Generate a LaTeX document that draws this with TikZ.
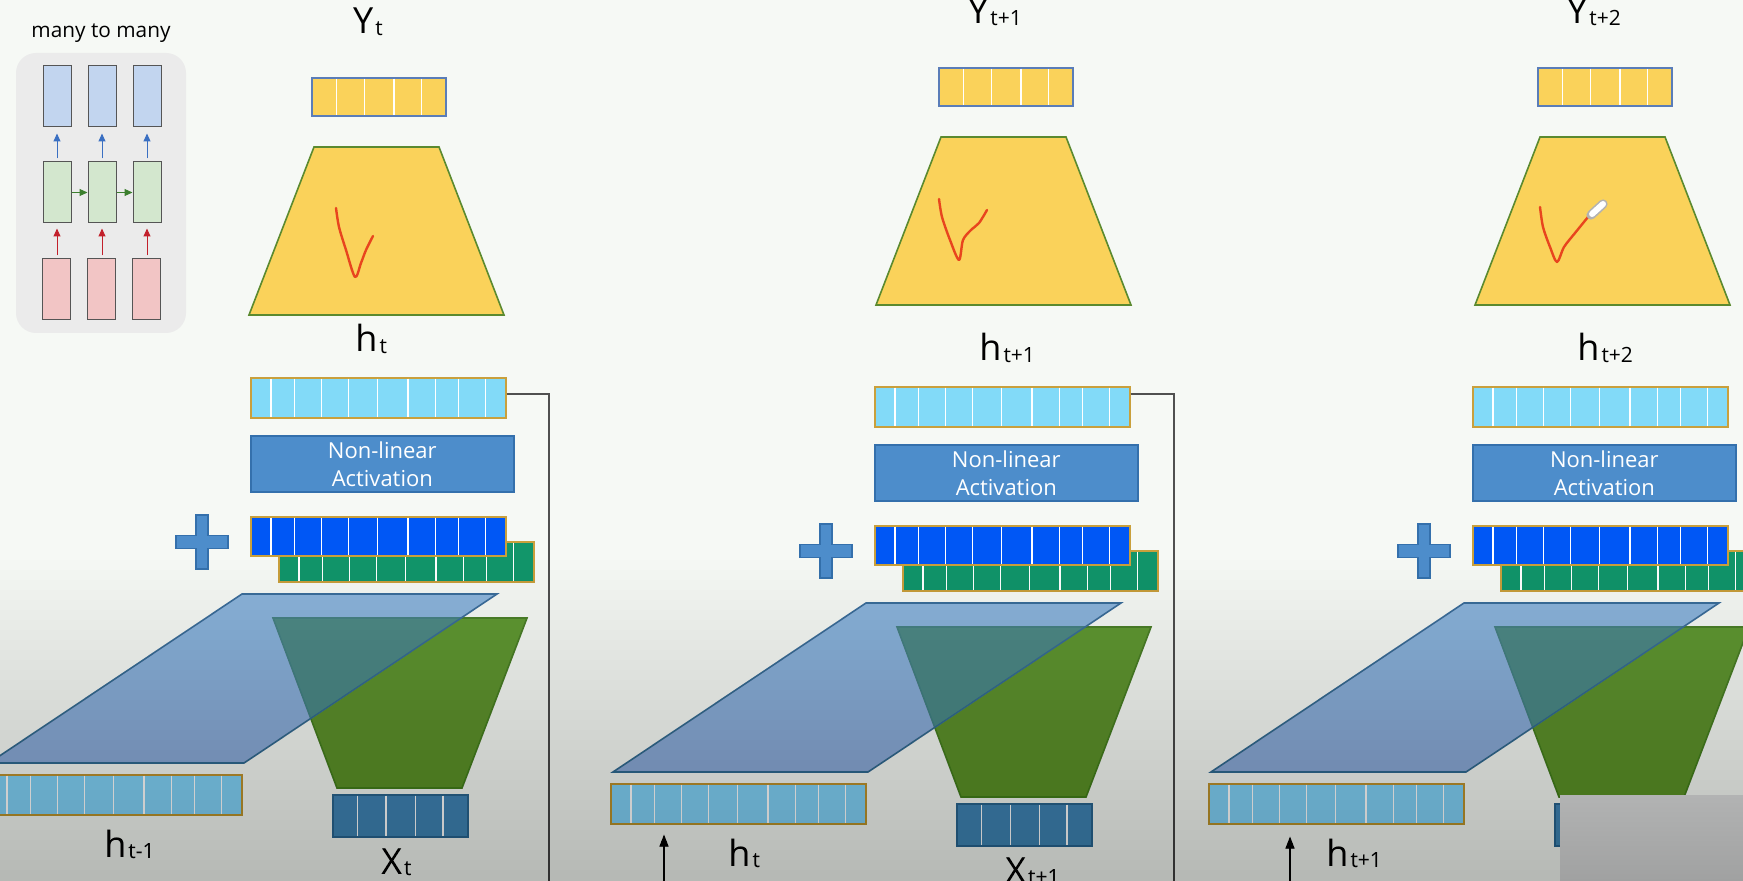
\documentclass[tikz,border=0pt]{standalone}
\usepackage{fontspec}
\setmainfont{Open Sans}
\usetikzlibrary{arrows.meta,positioning,calc}

\definecolor{BgTop}{HTML}{F6F9F5}
\definecolor{PanelGrey}{HTML}{EBEBEB}
\definecolor{PanelEdge}{HTML}{555555}
\definecolor{PanelBlue}{HTML}{C2D5EF}
\definecolor{PanelGreen}{HTML}{D3E7CE}
\definecolor{PanelRed}{HTML}{F2C5C5}
\definecolor{ArrowBlue}{HTML}{3A6FC2}
\definecolor{ArrowGreen}{HTML}{3C7F2E}
\definecolor{ArrowRed}{HTML}{C2202B}
\definecolor{OutYellow}{HTML}{FAD25A}
\definecolor{OutEdge}{HTML}{5A7DB8}
\definecolor{TrapEdge}{HTML}{5B8A2F}
\definecolor{HCyan}{HTML}{82DAF8}
\definecolor{VecGold}{HTML}{C9A03C}
\definecolor{ActBlue}{HTML}{4D8DCB}
\definecolor{ActEdge}{HTML}{3470AC}
\definecolor{SumBlue}{HTML}{0057F5}
\definecolor{SumGreen}{HTML}{12966A}
\definecolor{WBlue}{HTML}{4587CA}
\definecolor{WEdge}{HTML}{3D6E9E}
\definecolor{UGreen}{HTML}{619E36}
\definecolor{UEdge}{HTML}{4D802C}
\definecolor{XBlue}{HTML}{4C88C4}
\definecolor{XEdge}{HTML}{3A6A9A}
\definecolor{InkRed}{HTML}{E8451E}
\definecolor{FeedGrey}{HTML}{505050}
\definecolor{VideoGrey}{HTML}{AEAFAF}

\newcommand\sbs[1]{\kern1pt{\fontsize{10.5}{12}\selectfont\raisebox{-0.6pt}{#1}}}
\newcommand\vcells[2]{\foreach \f in {#2}
  \draw[cellline] ($(#1.north west)!\f!(#1.north east)$) -- ($(#1.south west)!\f!(#1.south east)$);}

\tikzset{
  vecbox/.style={rectangle,inner sep=0pt,anchor=north west,line width=0.8pt},
  hvec/.style={vecbox,draw=VecGold,fill=HCyan,minimum width=127.5pt,minimum height=20pt},
  sumvec/.style={vecbox,draw=VecGold,fill=SumBlue,minimum width=127.5pt,minimum height=19.5pt},
  wxvec/.style={vecbox,draw=VecGold,fill=SumGreen,minimum width=127.5pt,minimum height=20pt},
  outvec/.style={vecbox,draw=OutEdge,fill=OutYellow,minimum width=67pt,minimum height=19pt},
  xvec/.style={vecbox,draw=XEdge,fill=XBlue,minimum width=67.5pt,minimum height=21pt},
  actbox/.style={vecbox,draw=ActEdge,fill=ActBlue,text=white,minimum width=131.5pt,
    minimum height=28pt,align=center,font=\fontsize{11}{14}\selectfont},
  cellline/.style={white,line width=0.6pt,shorten <=0.8pt,shorten >=0.8pt},
  steplab/.style={inner sep=0pt,font=\fontsize{18}{20}\selectfont},
  panellab/.style={inner sep=0pt,font=\fontsize{10.4}{12}\selectfont},
  tinybox/.style={rectangle,draw=PanelEdge,line width=0.5pt,inner sep=0pt,
    minimum width=14pt,minimum height=30.5pt},
  tinyarrow/.style={line width=0.5pt,-{Triangle[length=4pt,width=3.5pt]}},
  outtrap/.style={fill=OutYellow,draw=TrapEdge,line width=0.8pt},
  wtrap/.style={fill=WBlue,fill opacity=0.58,draw=WEdge,line width=0.8pt},
  utrap/.style={fill=UGreen,draw=UEdge,line width=0.8pt},
  plusmark/.style={fill=ActBlue,draw=ActEdge,line width=0.6pt},
  inkstroke/.style={InkRed,line width=1.2pt,line cap=round,line join=round},
  feedline/.style={FeedGrey,line width=1pt},
  feedarrow/.style={black,line width=0.6pt,-{Triangle[length=6pt,width=4.5pt]}}
}

\begin{document}
\begin{tikzpicture}[x=0.5pt,y=-0.5pt]
  \useasboundingbox (0,0) rectangle (1743,881);
  \clip (0,0) rectangle (1743,881);
  \fill[BgTop] (0,0) rectangle (1743,881);

  % many to many thumbnail
  \fill[PanelGrey,rounded corners=10pt] (16,53) rectangle (186,333);
  \node[panellab,anchor=base] (mtm) at (101,38) {many to many};
  \foreach \k/\x in {1/57,2/102,3/147}{
    \node[tinybox,fill=PanelBlue] (po\k) at (\x,96.5) {};
    \node[tinybox,fill=PanelGreen] (ph\k) at (\x,192.5) {};
    \node[tinybox,fill=PanelRed] (pi\k) at (\x-1,289.5) {};
    \draw[tinyarrow,ArrowBlue,shorten <=1.5pt,shorten >=3pt] (ph\k) -- (po\k);
    \draw[tinyarrow,ArrowRed,shorten <=1.5pt,shorten >=2.5pt] (pi\k.north -| ph\k) -- (ph\k);
  }
  \draw[tinyarrow,ArrowGreen] (ph1) -- (ph2);
  \draw[tinyarrow,ArrowGreen] (ph2) -- (ph3);

  % three time steps
  \foreach \i/\lx/\ly/\ux/\uy/\yl/\hl/\bl/\xl in {
      1/0/0/0/0/t/t/{t-1}/{X\sbs{t}},
      2/624/9/627/-10/{t+1}/{t+1}/t/{X\sbs{t+1}},
      3/1222/9/1226/-10/{t+2}/{t+2}/{t+1}/{}}{
    \begin{scope}[shift={(\lx,\ly)}]
      \draw[utrap] (273,618) -- (527,618) -- (462,788) -- (337,788) -- cycle;
      \draw[wtrap] (242,594) -- (497,594) -- (244,763) -- (-11,763) -- cycle;
      \node[hvec,fill=HCyan] (hb\i) at (-14,774) {};
      \vcells{hb\i}{0.082,0.173,0.278,0.384,0.498,0.616,0.722,0.812,0.918}
      \node[xvec] (xv\i) at (332,794) {};
      \vcells{xv\i}{0.187,0.396,0.612,0.813}
      \node[steplab,anchor=base west] (bl\i) at (104,857) {h\sbs{\bl}};
      \node[steplab,anchor=base west] (xl\i) at (381,874) {\xl};
      \node[wxvec] (wx\i) at (278,541) {};
      \vcells{wx\i}{0.082,0.173,0.278,0.384,0.498,0.616,0.722,0.812,0.918}
      \node[sumvec] (sum\i) at (250,516) {};
      \vcells{sum\i}{0.082,0.173,0.278,0.384,0.498,0.616,0.722,0.812,0.918}
      \draw[plusmark] (196,515) -- (208,515) -- (208,535.5) -- (228,535.5) -- (228,548.5)
        -- (208,548.5) -- (208,569) -- (196,569) -- (196,548.5) -- (176,548.5)
        -- (176,535.5) -- (196,535.5) -- cycle;
      \node[actbox] (act\i) at (250,435) {Non-linear\\Activation};
      \node[hvec] (hu\i) at (250,377) {};
      \vcells{hu\i}{0.082,0.173,0.278,0.384,0.498,0.616,0.722,0.812,0.918}
      \node[steplab,anchor=base west] (hl\i) at (355,352) {h\sbs{\hl}};
    \end{scope}
    \begin{scope}[shift={(\ux,\uy)}]
      \draw[outtrap] (314,147) -- (439,147) -- (504,315) -- (249,315) -- cycle;
      \node[outvec] (out\i) at (311,77) {};
      \vcells{out\i}{0.187,0.396,0.612,0.813}
      \node[steplab,anchor=base] (yl\i) at (368,34) {Y\sbs{\yl}};
    \end{scope}
  }

  % hand-drawn ticks
  \draw[inkstroke] plot[smooth,tension=0.5] coordinates
    {(336,208) (339,227) (346,250) (355,277) (361,263) (366,250) (373,236)};
  \draw[inkstroke] plot[smooth,tension=0.5] coordinates
    {(939,199) (942,217) (950,240) (959,260) (963,240) (971,230) (979,223) (987,210)};
  \draw[inkstroke] plot[smooth,tension=0.5] coordinates
    {(1540,207) (1543,227) (1550,247) (1557,262) (1564,247) (1575,233) (1588,217)};
  \draw[gray!60,line width=4.6pt,line cap=round] (1591,215) -- (1603,204);
  \draw[white,line width=3pt,line cap=round] (1592,214) -- (1603,204);

  % recurrent connections
  \coordinate (fb1) at (549,885);
  \coordinate (fb2) at (1174,885);
  \draw[feedline] ([yshift=2pt]hu1.east) -| (fb1);
  \draw[feedline] ([yshift=6.5pt]hu2.east) -| (fb2);
  \coordinate (in2) at (664,885);
  \coordinate (in3) at (1290,885);
  \draw[feedarrow,shorten >=5pt] (in2) -- (in2 |- hb2.south);
  \draw[feedarrow,shorten >=6pt] (in3) -- (in3 |- hb3.south);

  % lower shadow
  \foreach \k in {0,...,31}
    \fill[black,fill opacity=0.0068] (0,560+10*\k) rectangle (1743,881);

  % video overlay corner
  \shade[top color=VideoGrey!95!white,bottom color=VideoGrey!92!black] (1560,795) rectangle (1743,881);
\end{tikzpicture}
\end{document}
